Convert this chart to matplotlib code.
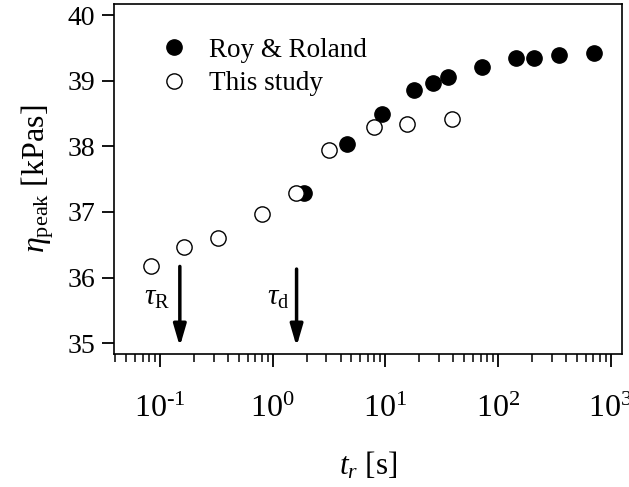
import matplotlib
matplotlib.use("Agg")
import matplotlib.pyplot as plt
from matplotlib.ticker import FixedLocator, FixedFormatter, LogLocator, NullFormatter

plt.rcParams['font.family'] = ['Liberation Serif', 'DejaVu Serif']
plt.rcParams['mathtext.fontset'] = 'custom'
plt.rcParams['mathtext.rm'] = 'Liberation Serif'
plt.rcParams['mathtext.it'] = 'Liberation Serif:italic'

# Roy & Roland (filled)
rr_t = [1.90, 4.54, 9.27, 18.0, 26.6, 36.2, 72.4, 143, 209, 347, 714]
rr_eta = [37.29, 38.03, 38.49, 38.86, 38.97, 39.05, 39.21, 39.35, 39.35, 39.40, 39.42]

# This study (open)
ts_t = [0.0827, 0.164, 0.325, 0.809, 1.60, 3.18, 7.92, 15.6, 38.7]
ts_eta = [36.18, 36.46, 36.61, 36.97, 37.29, 37.95, 38.29, 38.34, 38.42]

tau_R = 0.150
tau_d = 1.63

xticks = [0.1, 1, 10, 100, 1000]
xlabels = [r'$\mathregular{10^{\text{-}1}}$', r'$\mathregular{10^{0}}$', r'$\mathregular{10^{1}}$',
           r'$\mathregular{10^{2}}$', r'$\mathregular{10^{3}}$']
yticks = [35, 36, 37, 38, 39, 40]

fig = plt.figure(figsize=(6.29, 4.87), dpi=100)
ax = fig.add_axes([0.1817, 0.2737, 0.8076, 0.7181])

ax.plot(rr_t, rr_eta, 'o', ms=11, mfc='black', mec='black', mew=1, label='Roy & Roland')
ax.plot(ts_t, ts_eta, 'o', ms=11, mfc='white', mec='black', mew=1, label='This study')

ax.set_xscale('log')
ax.set_xlim(0.0393, 1267)
ax.set_ylim(34.84, 40.17)

ax.xaxis.set_major_locator(FixedLocator(xticks))
ax.xaxis.set_major_formatter(FixedFormatter(xlabels))
ax.xaxis.set_minor_locator(LogLocator(base=10, subs=range(2, 10), numticks=20))
ax.xaxis.set_minor_formatter(NullFormatter())
ax.set_yticks(yticks)

ax.tick_params(axis='x', which='major', direction='out', length=9.5, width=1.3,
               labelsize=23, pad=20)
ax.tick_params(axis='x', which='minor', direction='out', length=5.5, width=1.1)
ax.tick_params(axis='y', which='major', direction='out', length=9, width=1.3,
               labelsize=20, pad=5)
for s in ax.spines.values():
    s.set_linewidth(1.2)

ax.set_xlabel(r'$t_r$ [s]', fontsize=22.5, labelpad=19)
ax.set_ylabel(r'$\eta_{\mathrm{peak}}$ [kPas]', fontsize=23, labelpad=8)

arrow = dict(arrowstyle='-|>,head_length=1.3,head_width=0.38', lw=2.5, color='black',
             shrinkA=0, shrinkB=0)
ax.annotate('', xy=(tau_R, 34.95), xytext=(tau_R, 36.17), arrowprops=arrow)
ax.annotate('', xy=(tau_d, 34.95), xytext=(tau_d, 36.13), arrowprops=arrow)
ax.text(0.095, 35.69, r'$\tau_{\mathrm{R}}$', fontsize=21, ha='center', va='center')
ax.text(1.11, 35.69, r'$\tau_{\mathrm{d}}$', fontsize=21, ha='center', va='center')

ax.legend(loc='upper left', bbox_to_anchor=(0.07, 0.935), frameon=False, fontsize=19.5,
          handletextpad=0.8, labelspacing=0.33, borderaxespad=0, handlelength=1.0)

fig.savefig('out.png', dpi=100)
